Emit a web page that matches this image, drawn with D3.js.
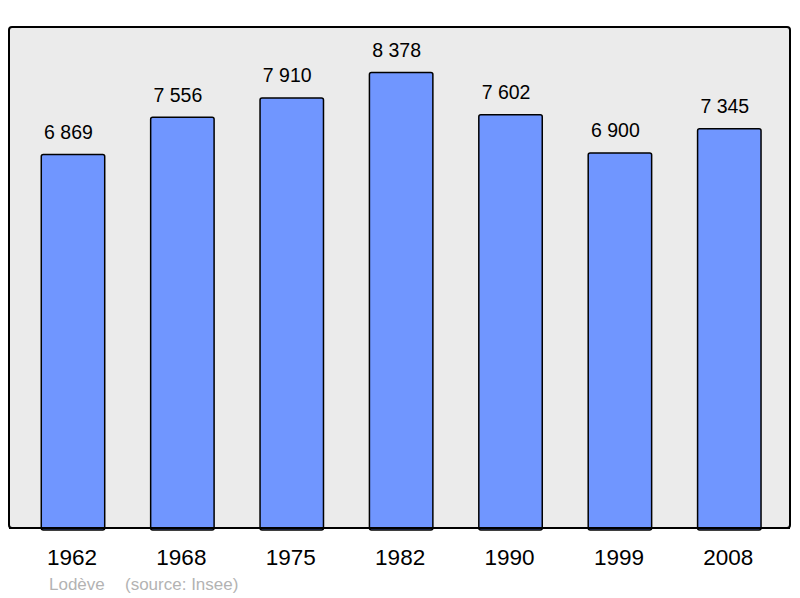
<!DOCTYPE html>
<html>
<head>
<meta charset="utf-8">
<script src="https://cdn.jsdelivr.net/npm/d3@7"></script>
<style>
  body { margin: 0; background: #fff; }
  svg { display: block; font-family: "Liberation Sans", Arial, sans-serif; }
</style>
</head>
<body>
<svg id="chart" width="800" height="598"></svg>
<script>
// population by census year
var years = ["1962", "1968", "1975", "1982", "1990", "1999", "2008"];
var population = [6869, 7556, 7910, 8378, 7602, 6900, 7345];
var town = "Lodève";
var source = "(source: Insee)";

var svg = d3.select("#chart");

// plot frame
var frame = { left: 9, top: 27, right: 790, bottom: 528 };

svg.append("rect")
    .attr("x", frame.left)
    .attr("y", frame.top)
    .attr("width", frame.right - frame.left)
    .attr("height", frame.bottom - frame.top)
    .attr("rx", 3)
    .attr("fill", "#ebebeb")
    .attr("stroke", "#000")
    .attr("stroke-width", 2);

var x = d3.scaleBand()
    .domain(years)
    .range([18.3, 784])
    .paddingInner(0.42)
    .paddingOuter(0.21);

var y = d3.scaleLinear()
    .domain([0, d3.max(population) * 1.1])
    .range([frame.bottom, frame.top]);

var data = years.map((d, i) => ({ year: d, value: population[i] }));

var fmt = v => d3.format(",")(v).replace(/,/g, " ");

var bars = svg.append("g").selectAll("g")
    .data(data)
    .enter()
    .append("g");

bars.append("rect")
    .attr("x", d => x(d.year))
    .attr("y", d => y(d.value))
    .attr("width", x.bandwidth())
    .attr("height", d => frame.bottom - y(d.value) + 2)
    .attr("rx", 2)
    .attr("fill", "#7096ff")
    .attr("stroke", "#000")
    .attr("stroke-width", 1.5);

// value labels sit a little left of the bar centre, like the original
bars.append("text")
    .attr("x", d => x(d.year) + x.bandwidth() / 2 - 4.5)
    .attr("y", d => y(d.value) - 15.5)
    .attr("text-anchor", "middle")
    .attr("font-size", 19.5)
    .attr("fill", "#000")
    .text(d => fmt(d.value));

// redraw bottom edge of frame over the bars
svg.append("line")
    .attr("x1", frame.left)
    .attr("x2", frame.right)
    .attr("y1", frame.bottom)
    .attr("y2", frame.bottom)
    .attr("stroke", "#000")
    .attr("stroke-width", 2);

svg.append("g").selectAll("text")
    .data(years)
    .enter()
    .append("text")
    .attr("x", d => x(d) + x.bandwidth() / 2 - 1)
    .attr("y", 564.5)
    .attr("text-anchor", "middle")
    .attr("font-size", 22.5)
    .attr("fill", "#000")
    .text(d => d);

svg.append("text")
    .attr("x", 49)
    .attr("y", 590)
    .attr("font-size", 17)
    .attr("fill", "#b3b3b3")
    .text(town);

svg.append("text")
    .attr("x", 125)
    .attr("y", 590)
    .attr("font-size", 17)
    .attr("fill", "#b3b3b3")
    .text(source);
</script>
</body>
</html>
